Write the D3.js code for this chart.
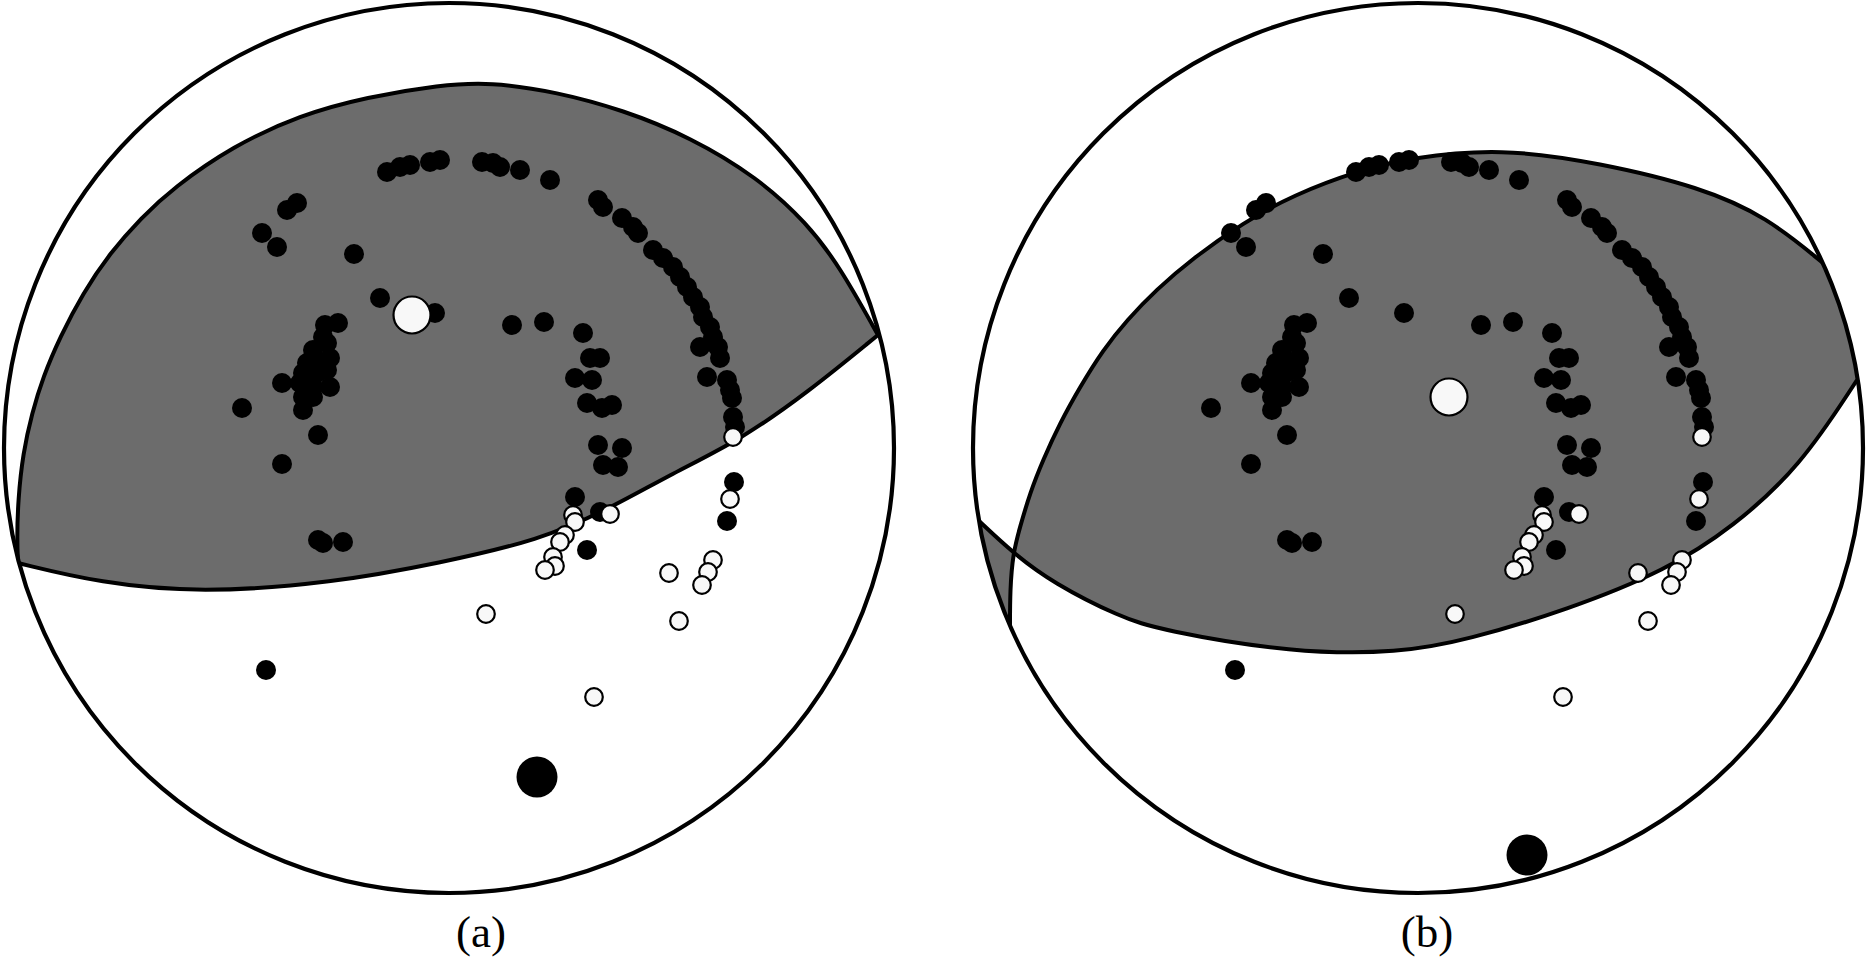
<!DOCTYPE html>
<html><head><meta charset="utf-8">
<script src="https://cdn.jsdelivr.net/npm/d3@7"></script>
<style>html,body{margin:0;padding:0;background:#fff;} svg{display:block}</style>
</head><body>
<svg id="chart" width="1867" height="959"></svg>
<script>
// Data coordinates: offsets from the net centre, east = +x, north = +y, net radius = 445
const NET_RADIUS = 445;

// Compressional (filled) first motions
const blackPoints = [
  [-62,276],[-49,281],[-39,283],[-19,286],[-9,288],[-162,238],[-152,245],[-187,215],[-172,201],
  [-95,194],[-69,150],[-14,135],
  [-124,123],[-111,125],[-126,111],[-122,105],[-136,98],[-119,90],[-142,85],[-129,85],[-146,75],
  [-132,75],[-122,78],[-149,65],[-136,61],[-119,61],[-146,51],[-136,51],[-146,38],[-167,65],
  [-207,40],[-131,13],[-167,-16],[-131,-92],[-126,-95],[-106,-94],[-183,-222],
  [33,286],[44,285],[51,281],[71,278],[101,268],[149,248],[154,241],[173,230],[184,221],[189,215],
  [204,198],[214,190],[224,181],[231,171],[238,161],[244,151],[251,141],[254,131],[261,121],
  [264,111],[269,101],[271,90],[251,101],[258,71],[278,68],[281,58],[283,50],[284,31],[286,21],
  [285,-34],[278,-73],
  [63,123],[95,126],[134,115],[141,90],[151,90],[126,70],[143,68],[138,45],[153,40],[163,43],
  [149,3],[173,0],[154,-17],[169,-19],[126,-49],[151,-64],[138,-102]
];
// Dilatational (open) first motions
const whitePoints = [
  [284,11],[281,-51],[124,-67],[126,-74],[161,-66],[116,-87],[111,-94],[104,-109],[106,-118],
  [96,-122],[37,-166],[220,-125],[264,-112],[259,-124],[253,-137],[230,-173],[145,-249]
];

// Panel (a)
const tAxisA = [-37,133];
const pAxisA = [88,-329];
const nodalUpperA = [[-431,-115],[-432,-92],[-431,-52],[-426,-5],[-417,35],[-406,71],[-389,111],
  [-366,155],[-339,195],[-308,230],[-276,260],[-216,302],[-149,333],[-82,351],[-9,363],[41,366],
  [108,356],[174,338],[241,311],[308,271],[358,225],[391,181],[429,113]];
const nodalLowerA = [[429,113],[358,55],[291,8],[224,-25],[158,-62],[91,-92],[-9,-115],[-116,-135],
  [-249,-145],[-349,-135],[-431,-115]];

// Panel (b)
const tAxisB = [31,51];
const pAxisB = [109,-407];
const nodalUpperB = [[-408,-182],[-408,-142],[-405,-105],[-398,-79],[-388,-45],[-375,-12],[-358,25],
  [-338,61],[-315,98],[-291,128],[-262,158],[-225,190],[-175,225],[-125,253],[-58,278],[-8,290],[82,300],
  [182,285],[282,261],[349,231],[405,185]];
const nodalLowerB = [[439,68],[382,-19],[315,-79],[249,-122],[149,-162],[49,-192],[-18,-205],
  [-125,-205],[-258,-182],[-298,-169],[-365,-135],[-405,-105],[-440,-72]];

const panelLabels = ["(a)", "(b)"];

const svg = d3.select("#chart");
const defs = svg.append("defs");

const panels = [
  {id:"a", cx:449, cy:448, R:445, labelX:481, upper:nodalUpperA, lower:nodalLowerA, t:tAxisA, p:pAxisA, label:panelLabels[0],
   outsideRight:null, outsideLeft:null},
  {id:"b", cx:1418, cy:448, R:445, labelX:1427, upper:nodalUpperB, lower:nodalLowerB, t:tAxisB, p:pAxisB, label:panelLabels[1],
   outsideRight:[[520,185],[520,68]], outsideLeft:[[-520,-72],[-520,-182]]}
];

const SHADE = "#6c6c6c";

panels.forEach(p => {
  const x = d3.scaleLinear().domain([-NET_RADIUS, NET_RADIUS]).range([p.cx - p.R, p.cx + p.R]);
  const y = d3.scaleLinear().domain([-NET_RADIUS, NET_RADIUS]).range([p.cy + p.R, p.cy - p.R]);
  const r = x(NET_RADIUS) - x(0);

  defs.append("clipPath").attr("id", "clip-" + p.id)
    .append("circle").attr("cx", x(0)).attr("cy", y(0)).attr("r", r);

  const smooth = d3.line().x(d => x(d[0])).y(d => y(d[1])).curve(d3.curveBasis);
  const straight = d3.line().x(d => x(d[0])).y(d => y(d[1]));

  const g = svg.append("g");
  const cg = g.append("g").attr("clip-path", "url(#clip-" + p.id + ")");

  let dPath = smooth(p.upper);
  if (p.outsideRight) dPath += straight(p.outsideRight).replace(/^M/, "L");
  dPath += smooth(p.lower).replace(/^M/, "L");
  if (p.outsideLeft) dPath += straight(p.outsideLeft).replace(/^M/, "L");
  dPath += "Z";

  cg.append("path").attr("d", dPath).attr("fill", SHADE).attr("fill-rule", "nonzero").attr("stroke", "none");
  cg.append("path").attr("d", smooth(p.upper)).attr("fill", "none").attr("stroke", "#000").attr("stroke-width", 4).attr("stroke-linejoin", "round");
  cg.append("path").attr("d", smooth(p.lower)).attr("fill", "none").attr("stroke", "#000").attr("stroke-width", 4).attr("stroke-linejoin", "round");

  g.append("circle").attr("cx", x(0)).attr("cy", y(0)).attr("r", r)
    .attr("fill", "none").attr("stroke", "#000").attr("stroke-width", 4.2);

  g.append("g").selectAll("circle").data(blackPoints).join("circle")
    .attr("cx", d => x(d[0])).attr("cy", d => y(d[1])).attr("r", 10).attr("fill", "#000");

  g.append("g").selectAll("circle").data(whitePoints).join("circle")
    .attr("cx", d => x(d[0])).attr("cy", d => y(d[1])).attr("r", 8.8)
    .attr("fill", "#f8f8f8").attr("stroke", "#000").attr("stroke-width", 2.2);

  g.append("circle").attr("cx", x(p.t[0])).attr("cy", y(p.t[1])).attr("r", 18.5)
    .attr("fill", "#f8f8f8").attr("stroke", "#000").attr("stroke-width", 2.2);
  g.append("circle").attr("cx", x(p.p[0])).attr("cy", y(p.p[1])).attr("r", 20.5).attr("fill", "#000");

  g.append("text").attr("x", p.labelX).attr("y", 947).attr("text-anchor", "middle")
    .attr("font-family", "'Liberation Serif', 'Times New Roman', serif").attr("font-size", 45)
    .attr("fill", "#000").text(p.label);
});
</script></body></html>
